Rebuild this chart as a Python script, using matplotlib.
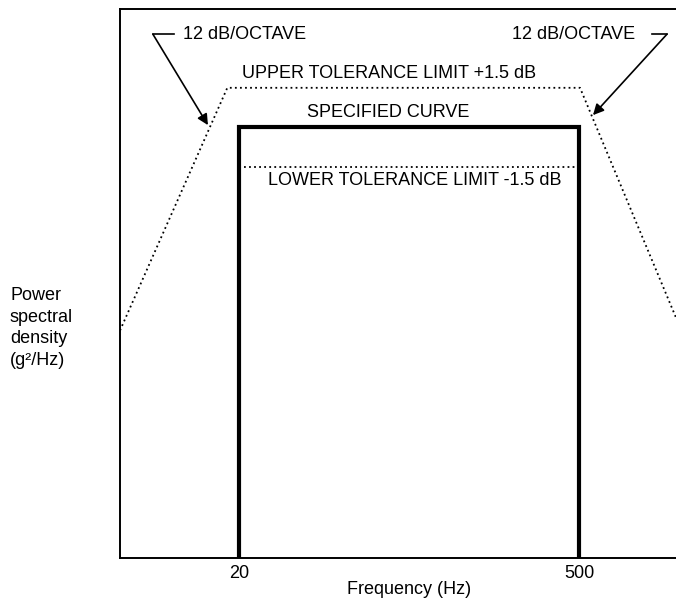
import matplotlib.pyplot as plt

plt.rcParams['font.family'] = ['Liberation Sans', 'DejaVu Sans']
plt.rcParams['font.size'] = 13

# frequency (Hz) and relative level (dB, 0 = specified curve)
f_lim = [6.48, 1253]
level_lim = [-16.4, 4.5]

spec_freq = [20, 20, 500, 500]
spec_level = [-16.4, 0, 0, -16.4]

upper_freq = [6.48, 17.9, 505, 1253]
upper_level = [-7.74, 1.5, 1.5, -7.25]

lower_freq = [21, 486]
lower_level = [-1.5, -1.5]

tick_freq = [20, 500]
tick_labels = ['20', '500']

fig = plt.figure(figsize=(6.76, 6.09), dpi=100)
ax = fig.add_axes([120 / 676, 1 - 558 / 609, 1 - 120 / 676, 549 / 609])
ax.set_xscale('log')
ax.set_xlim(f_lim)
ax.set_ylim(level_lim)

ax.plot(spec_freq, spec_level, color='black', lw=3.0, solid_joinstyle='miter')
ax.plot(upper_freq, upper_level, color='black', lw=1.3, linestyle=(0, (1, 1.8)))
ax.plot(lower_freq, lower_level, color='black', lw=1.3, linestyle=(0, (1, 1.8)))

# 12 dB/octave call-outs
arrow = dict(arrowstyle='-|>', color='black', lw=1.2, mutation_scale=16,
             shrinkA=0, shrinkB=0)
ax.annotate('', xy=(14.9, 0.08), xytext=(8.85, 3.54), arrowprops=arrow)
ax.plot([8.85, 10.8], [3.54, 3.54], color='black', lw=1.2)
ax.text(11.8, 3.54, '12 dB/OCTAVE', ha='left', va='center')

ax.annotate('', xy=(571, 0.46), xytext=(1150, 3.54), arrowprops=arrow)
ax.plot([998, 1150], [3.54, 3.54], color='black', lw=1.2)
ax.text(850, 3.54, '12 dB/OCTAVE', ha='right', va='center')

ax.text(20.6, 2.05, 'UPPER TOLERANCE LIMIT +1.5 dB', ha='left', va='center')
ax.text(82, 0.57, 'SPECIFIED CURVE', ha='center', va='center')
ax.text(26.3, -2.02, 'LOWER TOLERANCE LIMIT -1.5 dB', ha='left', va='center')

ax.set_xticks(tick_freq)
ax.set_xticklabels(tick_labels)
ax.minorticks_off()
ax.tick_params(axis='x', length=0, pad=5)
ax.set_yticks([])

for side in ['left', 'bottom', 'top']:
    ax.spines[side].set_linewidth(1.4)
ax.spines['right'].set_visible(False)

fig.text(409 / 676, 1 - 590 / 609, 'Frequency (Hz)', ha='center', va='center')
fig.text(10 / 676, 1 - 328 / 609, 'Power\nspectral\ndensity\n(g²/Hz)',
         ha='left', va='center', linespacing=1.37)

fig.savefig('out.png', dpi=100)
